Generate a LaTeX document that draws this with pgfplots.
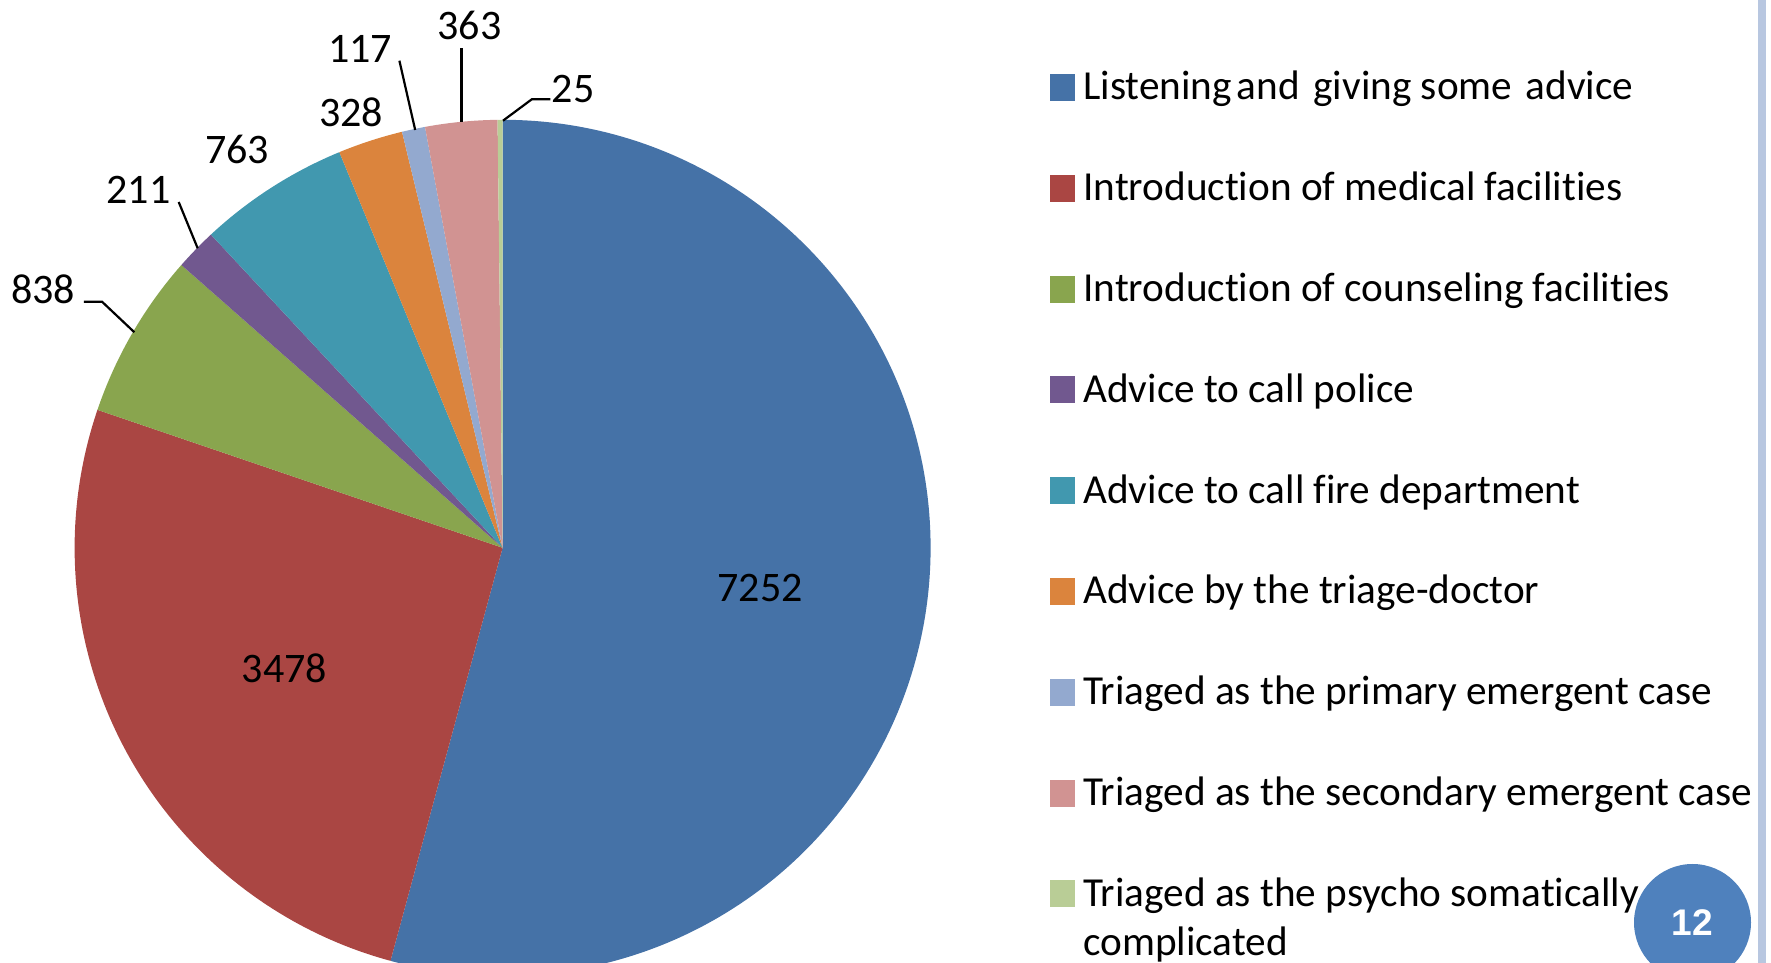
\documentclass[border=0pt]{standalone}
\usepackage{pgfplots}
\pgfplotsset{compat=1.18}
\usepackage{pgfplotstable}
\usepackage{fontspec}
\setmainfont{Carlito}[Ligatures=NoCommon]
\newfontfamily\arialfont{Liberation Sans}

\definecolor{col0}{RGB}{69,114,167}
\definecolor{col1}{RGB}{170,70,67}
\definecolor{col2}{RGB}{137,165,78}
\definecolor{col3}{RGB}{113,88,143}
\definecolor{col4}{RGB}{65,152,175}
\definecolor{col5}{RGB}{219,132,61}
\definecolor{col6}{RGB}{147,169,207}
\definecolor{col7}{RGB}{209,147,146}
\definecolor{col8}{RGB}{185,205,150}
\definecolor{sidebar}{RGB}{184,199,224}
\definecolor{pagecirc}{RGB}{79,129,189}

\pgfplotstableread{
val
7252
3478
838
211
763
328
117
363
25
}\piedata

\begin{document}
\begin{tikzpicture}
\xdef\cum{0}
\foreach \i in {0,...,8}{%
  \pgfplotstablegetelem{\i}{val}\of\piedata
  \expandafter\xdef\csname v\i\endcsname{\pgfplotsretval}%
  \pgfmathparse{\cum+\pgfplotsretval}%
  \xdef\cum{\pgfmathresult}%
  \expandafter\xdef\csname c\i\endcsname{\pgfmathresult}%
}
\xdef\prevang{90}
\foreach \i in {0,...,8}{%
  \pgfmathparse{90-360*(\csname c\i\endcsname/\cum)}%
  \expandafter\xdef\csname s\i\endcsname{\prevang}%
  \expandafter\xdef\csname e\i\endcsname{\pgfmathresult}%
  \xdef\prevang{\pgfmathresult}%
}
\begin{axis}[
  name=ax,
  scale only axis,
  width=885.5bp, height=481.5bp,
  xmin=0, xmax=1771, ymin=0, ymax=963,
  hide axis,
  clip=true,
  font=\fontsize{21.1}{25}\selectfont,
]
% pie slices
\pgfplotsinvokeforeach{0,...,8}{
  \fill[col#1] (axis cs:502.6,415.2) -- ++(\csname s#1\endcsname:214bp)
     arc[start angle=\csname s#1\endcsname, end angle=\csname e#1\endcsname, radius=214bp] -- cycle;
}
% data labels
\node at (axis cs:760,374.5) {\csname v0\endcsname};
\node at (axis cs:284.6,295.2) {\csname v1\endcsname};
\node at (axis cs:43,673.5) {\csname v2\endcsname};
\node at (axis cs:138.5,773.3) {\csname v3\endcsname};
\node at (axis cs:237,813.5) {\csname v4\endcsname};
\node at (axis cs:351,851) {\csname v5\endcsname};
\node at (axis cs:360,914.5) {\csname v6\endcsname};
\node at (axis cs:469.5,938) {\csname v7\endcsname};
\node at (axis cs:573,874) {\csname v8\endcsname};
% leader lines
\draw[line width=1.1bp] (axis cs:83.8,661.3) -- (axis cs:102,661.3) -- (axis cs:134.4,630.7);
\draw[line width=1.1bp] (axis cs:178.7,761) -- (axis cs:197.7,714.7);
\draw[line width=1.1bp] (axis cs:399.4,902.3) -- (axis cs:415.2,833);
\draw[line width=1.1bp] (axis cs:461.4,914.7) -- (axis cs:461.4,841.3);
\draw[line width=1.1bp] (axis cs:550.4,863.7) -- (axis cs:531.8,863.7) -- (axis cs:503,842.3);
% legend
\pgfplotsinvokeforeach{0,...,8}{
  \fill[col#1] (axis cs:1050,{963-(101+100.8*#1)}) rectangle (axis cs:1075,{963-(74+100.8*#1)});
}
\begin{scope}[every node/.style={anchor=base west,inner sep=0,font=\fontsize{20.7}{25}\selectfont}]
\node at (axis cs:1083,863) {Listening\hspace{0.12em}and\hspace{0.33em}giving some\hspace{0.33em}advice};
\node at (axis cs:1083,762.2) {Introduction of medical facilities};
\node at (axis cs:1083,661.4) {Introduction of counseling facilities};
\node at (axis cs:1083,560.6) {Advice to call police};
\node at (axis cs:1083,459.8) {Advice to call fire department};
\node at (axis cs:1083,359) {Advice by the triage-doctor};
\node at (axis cs:1083,258.2) {Triaged as the primary emergent case};
\node at (axis cs:1083,157.4) {Triaged as the secondary emergent case};
\node at (axis cs:1083,56.6) {Triaged as the psycho somatically};
\node at (axis cs:1083,8) {complicated};
\end{scope}
% side bar and page number
\fill[sidebar] (axis cs:1758,0) rectangle (axis cs:1766,963);
\fill[pagecirc] (axis cs:1692.5,40.5) circle[radius=29.25bp];
\node[text=white,font=\arialfont\bfseries\fontsize{18.6}{20}\selectfont] at (axis cs:1692.5,40.5) {12};
\end{axis}
\pgfresetboundingbox
\path (ax.south west) rectangle (ax.north east);
\end{tikzpicture}
\end{document}
